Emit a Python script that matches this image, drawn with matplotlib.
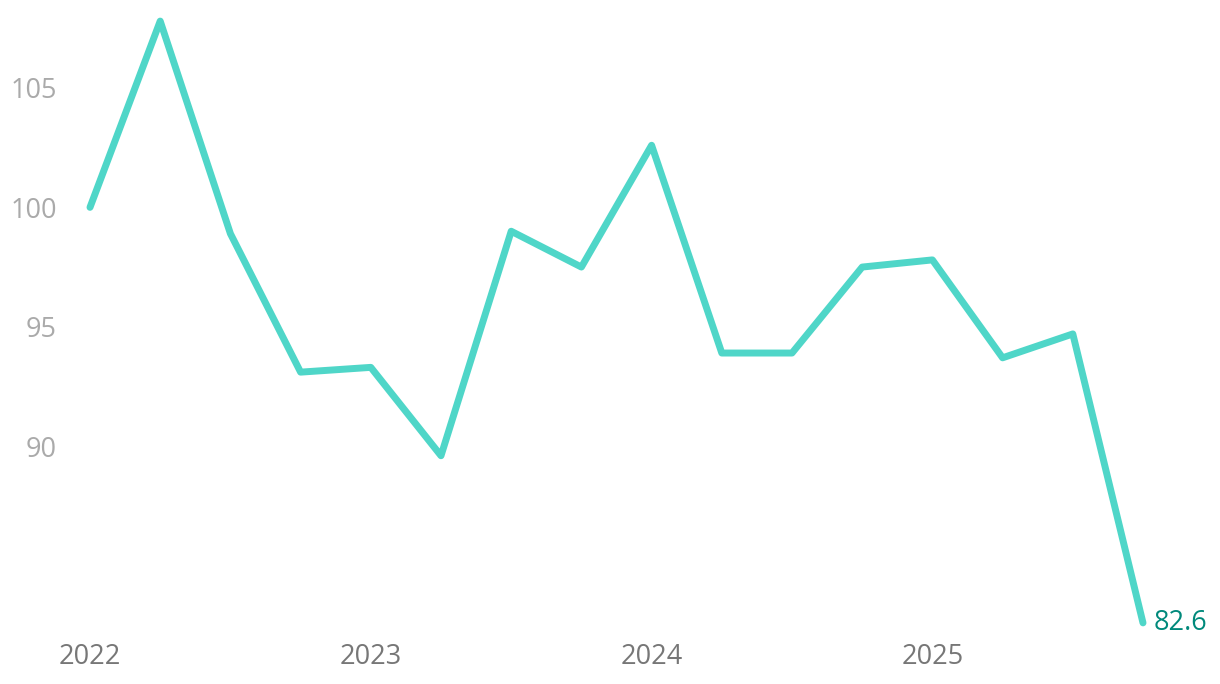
import numpy as np
import matplotlib.pyplot as plt

# quarterly index values
quarters = np.arange(2022, 2026, 0.25)
values = [100.0, 107.8, 98.9, 93.1, 93.3, 89.6, 99.0, 97.5,
          102.6, 93.9, 93.9, 97.5, 97.8, 93.7, 94.7, 82.6]
year_ticks = [2022, 2023, 2024, 2025]
value_ticks = [90, 95, 100, 105]

plt.rcParams['font.family'] = ['Open Sans', 'DejaVu Sans']

fig = plt.figure(figsize=(12.2, 6.84), dpi=100)
ax = fig.add_axes([90 / 1220, 0.0684, (1143 - 90) / 1220, 0.9252])

ax.plot(quarters, values, color='#4fd6c8', lw=5, solid_capstyle='round',
        solid_joinstyle='round', clip_on=False)

last = values[-1]
ax.annotate(f"{last}", (quarters[-1], last), xytext=(8, 0), textcoords='offset points',
            va='center', ha='left', fontsize=19.5, color='#00897b')

ax.set_xlim(2022, 2025.75)
ax.set_ylim(82, 108.5)
ax.set_xticks(year_ticks)
ax.set_xticklabels([str(y) for y in year_ticks])
ax.set_yticks(value_ticks)
ax.tick_params(axis='x', length=0, pad=4, labelsize=19.5, labelcolor='#777777')
ax.tick_params(axis='y', length=0, pad=24, labelsize=19.5, labelcolor='#aaaaaa')
for s in ax.spines.values():
    s.set_visible(False)

fig.savefig('out.png', dpi=100)
